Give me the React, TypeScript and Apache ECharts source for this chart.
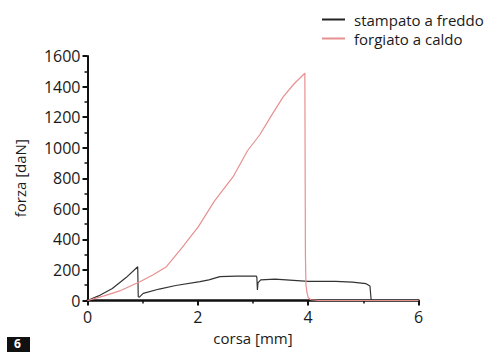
import React, { useEffect, useRef } from "react";
import * as echarts from "echarts";

const xTicks = [0, 2, 4, 6];
const yTicks = [0, 200, 400, 600, 800, 1000, 1200, 1400, 1600];

const seriesNames = ["stampato a freddo", "forgiato a caldo"];

// [corsa mm, forza daN]
const stampatoAFreddo: [number, number][] = [
  [0, 0], [0.2, 30], [0.45, 78], [0.7, 150], [0.91, 221], [0.92, 25], [0.94, 22],
  [1.01, 47], [1.3, 75], [1.6, 98], [2.04, 123], [2.2, 135], [2.4, 156], [2.7, 160],
  [3.06, 160], [3.07, 150], [3.08, 69], [3.09, 115], [3.14, 135], [3.4, 140],
  [4.0, 125], [4.5, 125], [4.8, 120], [5.05, 110], [5.12, 95], [5.14, 10], [5.16, 0], [6, 0],
];

const forgiatoACaldo: [number, number][] = [
  [0, 0], [0.3, 30], [0.6, 65], [0.95, 123], [1.2, 170], [1.43, 221], [1.7, 340],
  [2.01, 483], [2.3, 650], [2.64, 810], [2.9, 980], [3.12, 1083], [3.35, 1220],
  [3.55, 1334], [3.75, 1420], [3.94, 1487], [3.95, 300], [3.96, 100], [3.98, 50],
  [4.0, 20], [4.05, 5], [4.2, 0], [6, 0],
];

const FONT = "'Open Sans', 'Noto Sans', sans-serif";
const TXT = "#1a1a1a";

export default function App() {
  const ref = useRef<HTMLDivElement>(null);
  useEffect(() => {
    if (!ref.current) return;
    const chart = echarts.init(ref.current, null, { renderer: "svg" });
    chart.setOption({
      animation: false,
      backgroundColor: "#ffffff",
      textStyle: { fontFamily: FONT },
      grid: { left: 87.5, right: 73.5, top: 56, bottom: 51.5 },
      legend: {
        data: seriesNames,
        orient: "vertical",
        left: 322,
        top: 11,
        padding: 0,
        icon: "rect",
        itemWidth: 23,
        itemHeight: 2,
        itemGap: 2,
        textStyle: { fontFamily: FONT, fontSize: 15, color: TXT, lineHeight: 17, padding: [0, 0, 0, 4] },
      },
      xAxis: {
        type: "value",
        min: xTicks[0],
        max: xTicks[xTicks.length - 1],
        interval: 2,
        name: "corsa [mm]",
        nameLocation: "middle",
        nameGap: 30,
        nameTextStyle: { fontFamily: FONT, fontSize: 15, color: TXT },
        axisLine: { show: true, lineStyle: { color: "#111", width: 2.5 } },
        axisTick: { show: true, length: 5, lineStyle: { color: "#111", width: 2 } },
        minorTick: { show: true, splitNumber: 2, length: 3, lineStyle: { color: "#111", width: 1.5 } },
        axisLabel: { fontFamily: FONT, fontSize: 16, color: TXT, margin: 8, formatter: (v: number) => String(v) },
        splitLine: { show: false },
      },
      yAxis: {
        type: "value",
        min: yTicks[0],
        max: yTicks[yTicks.length - 1],
        interval: 200,
        name: "forza [daN]",
        nameLocation: "middle",
        nameGap: 60,
        nameTextStyle: { fontFamily: FONT, fontSize: 15, color: TXT },
        axisLine: { show: true, lineStyle: { color: "#111", width: 2 } },
        axisTick: { show: true, length: 5, lineStyle: { color: "#111", width: 2 } },
        minorTick: { show: true, splitNumber: 2, length: 3, lineStyle: { color: "#111", width: 1.5 } },
        axisLabel: { fontFamily: FONT, fontSize: 16, color: TXT, margin: 7, formatter: (v: number) => String(v) },
        splitLine: { show: false },
      },
      series: [
        {
          name: seriesNames[0],
          type: "line",
          data: stampatoAFreddo,
          showSymbol: false,
          symbol: "none",
          lineStyle: { color: "#333", width: 1.2 },
          itemStyle: { color: "#222" },
          z: 3,
        },
        {
          name: seriesNames[1],
          type: "line",
          data: forgiatoACaldo,
          showSymbol: false,
          symbol: "none",
          lineStyle: { color: "#e88f8f", width: 1.2 },
          itemStyle: { color: "#e88f8f" },
          z: 4,
        },
      ],
      graphic: [
        { type: "rect", left: 7, top: 337, shape: { width: 23, height: 15 }, style: { fill: "#111" } },
        {
          type: "text",
          left: 14,
          top: 337,
          style: { text: "6", fill: "#fff", fontSize: 12, fontWeight: "bold", fontFamily: FONT },
        },
      ],
    });
    return () => chart.dispose();
  }, []);
  return <div ref={ref} style={{ width: 492, height: 352, position: "absolute", left: 0, top: 0 }} />;
}
